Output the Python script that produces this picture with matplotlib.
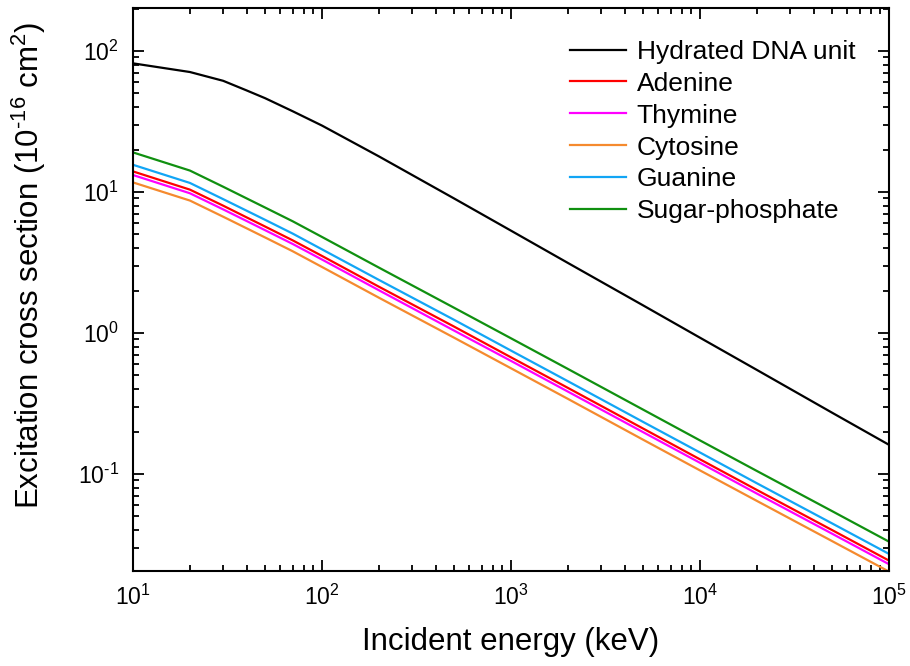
import matplotlib
matplotlib.use("Agg")
import matplotlib.pyplot as plt
from matplotlib.ticker import LogLocator, NullFormatter, FuncFormatter
import math

plt.rcParams['font.family'] = ['Liberation Sans', 'DejaVu Sans']
plt.rcParams['mathtext.fontset'] = 'custom'
plt.rcParams['mathtext.rm'] = 'Liberation Sans'
plt.rcParams['mathtext.it'] = 'Liberation Sans'
plt.rcParams['axes.unicode_minus'] = False

energy = [10, 20, 30, 40, 50, 70, 100, 200, 500, 1000, 2000, 5000, 1e4, 2e4, 5e4, 1e5]

hydrated = [81.8, 71.0, 61.5, 52.5, 46.3, 37.4, 29.6, 17.9, 9.0, 5.32, 3.14, 1.57, 0.926, 0.547, 0.272, 0.161]
adenine = [14.0, 10.4, 8.0, 6.6, 5.69, 4.54, 3.52, 2.13, 1.11, 0.672, 0.408, 0.210, 0.127, 0.0770, 0.0400, 0.0243]
thymine = [13.2, 9.8, 7.53, 6.22, 5.36, 4.28, 3.32, 2.01, 1.04, 0.634, 0.384, 0.198, 0.120, 0.0726, 0.0377, 0.0229]
cytosine = [11.7, 8.7, 6.68, 5.52, 4.76, 3.80, 2.94, 1.78, 0.926, 0.562, 0.341, 0.175, 0.106, 0.0644, 0.0334, 0.0203]
guanine = [15.6, 11.6, 8.9, 7.36, 6.35, 5.07, 3.92, 2.38, 1.24, 0.750, 0.455, 0.234, 0.142, 0.0859, 0.0446, 0.0271]
sugar = [19.1, 14.2, 10.9, 9.0, 7.76, 6.2, 4.80, 2.91, 1.51, 0.917, 0.556, 0.286, 0.173, 0.105, 0.0545, 0.0331]

labels = ["Hydrated DNA unit", "Adenine", "Thymine", "Cytosine", "Guanine", "Sugar-phosphate"]
colors = ["#000000", "#FF0000", "#FF00FF", "#F58A2E", "#12A5F5", "#109010"]
series = [hydrated, adenine, thymine, cytosine, guanine, sugar]

fig = plt.figure(figsize=(9.1, 6.66), dpi=100)
ax = fig.add_axes([133/910, 1 - 571/666, (889-133)/910, (571-8)/666])

for ys, lab, c in zip(series, labels, colors):
    ax.plot(energy, ys, color=c, lw=1.6, label=lab)

ax.set_xscale('log')
ax.set_yscale('log')
ax.set_xlim(10, 1e5)
ax.set_ylim(0.0205, 202)


def pow_fmt(v, pos):
    e = int(round(math.log10(v)))
    if e < 0:
        return r'$10^{\text{-}%d}$' % (-e)
    return r'$10^{%d}$' % e


ax.xaxis.set_major_locator(LogLocator(base=10, numticks=10))
ax.xaxis.set_minor_locator(LogLocator(base=10, subs=range(2, 10), numticks=20))
ax.yaxis.set_major_locator(LogLocator(base=10, numticks=10))
ax.yaxis.set_minor_locator(LogLocator(base=10, subs=range(2, 10), numticks=20))
ax.xaxis.set_major_formatter(FuncFormatter(pow_fmt))
ax.yaxis.set_major_formatter(FuncFormatter(pow_fmt))
ax.xaxis.set_minor_formatter(NullFormatter())
ax.yaxis.set_minor_formatter(NullFormatter())

ax.tick_params(which='both', direction='in', top=True, right=True, width=1.3)
ax.tick_params(which='major', length=8, labelsize=16.5, pad=10)
ax.tick_params(which='minor', length=4)
for s in ax.spines.values():
    s.set_linewidth(1.5)

ax.set_xlabel("Incident energy (keV)", fontsize=22.5, labelpad=12)
ax.set_ylabel(r"Excitation cross section (10$^{\text{-}16}$ cm$^{2}$)", fontsize=22.5)
ax.yaxis.set_label_coords(-0.112, 0.5435)

leg = ax.legend(loc='upper right', bbox_to_anchor=(1 - 10/756, 1 - 8/563),
                frameon=False, fontsize=19, handlelength=2.1,
                handletextpad=0.42, labelspacing=0.3, borderaxespad=0.5)

fig.savefig("out.png", dpi=100)
